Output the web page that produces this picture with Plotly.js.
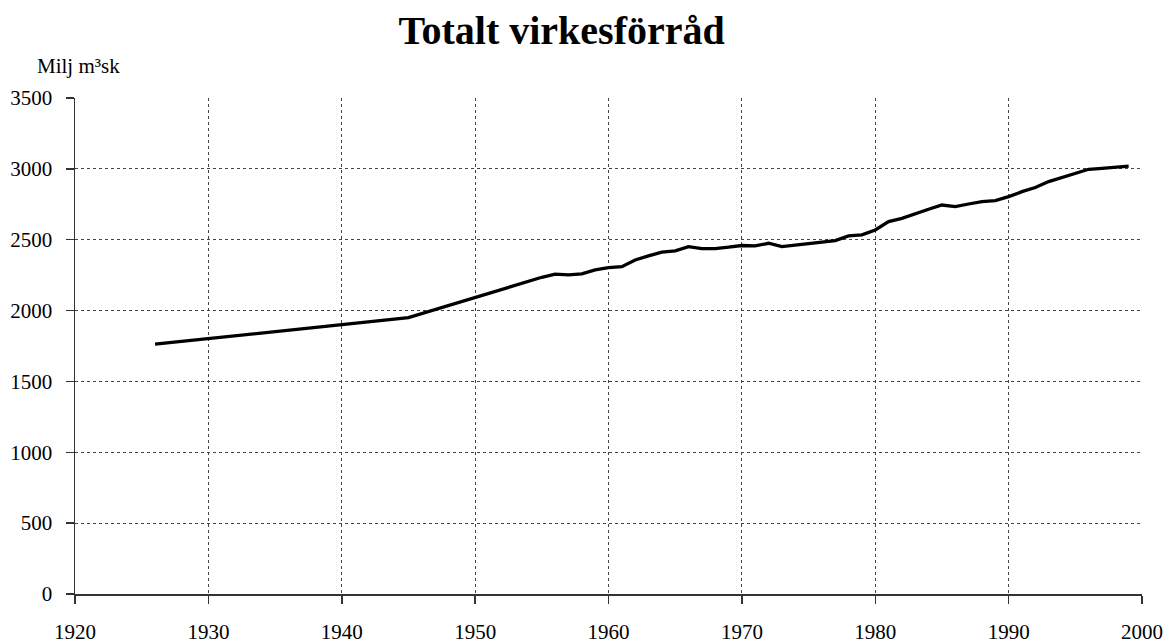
<!DOCTYPE html>
<html>
<head>
<meta charset="utf-8">
<script src="https://cdn.plot.ly/plotly-3.0.1.min.js"></script>
<style>html,body{margin:0;padding:0;background:#fff;}#chart{width:1170px;height:644px;}</style>
</head>
<body>
<div id="chart"></div>
<script>
const chartTitle = "Totalt virkesförråd";
const unitLabel = "Milj m³sk";
const years = [1926, 1945, 1955, 1956, 1957, 1958, 1959, 1960, 1961, 1962, 1963, 1964, 1965, 1966, 1967, 1968, 1969, 1970, 1971, 1972, 1973, 1974, 1975, 1976, 1977, 1978, 1979, 1980, 1981, 1982, 1983, 1984, 1985, 1986, 1987, 1988, 1989, 1990, 1991, 1992, 1993, 1994, 1995, 1996, 1997, 1998, 1999];
const volume = [1763, 1950, 2235, 2257, 2252, 2259, 2287, 2303, 2310, 2357, 2386, 2412, 2421, 2451, 2437, 2437, 2447, 2459, 2456, 2475, 2451, 2463, 2473, 2482, 2494, 2527, 2534, 2569, 2628, 2651, 2680, 2715, 2745, 2734, 2752, 2769, 2776, 2804, 2839, 2868, 2910, 2941, 2969, 2997, 3004, 3011, 3020];
const xTicks = [1920, 1930, 1940, 1950, 1960, 1970, 1980, 1990, 2000];
const yTicks = [0, 500, 1000, 1500, 2000, 2500, 3000, 3500];

const serif = "Liberation Serif, Times New Roman, serif";

const trace = {
  x: years, y: volume, type: 'scatter', mode: 'lines',
  line: {color: '#000', width: 3.3},
  hoverinfo: 'x+y'
};

const layout = {
  width: 1170, height: 644,
  margin: {l: 75, r: 28, t: 98, b: 50},
  paper_bgcolor: '#fff', plot_bgcolor: '#fff',
  showlegend: false,
  font: {family: serif, color: '#000', size: 21},
  title: {
    text: '<b>' + chartTitle + '</b>',
    font: {family: serif, size: 40, color: '#000'},
    xref: 'container', x: 0.48, xanchor: 'center',
    yref: 'container', y: 0.953, yanchor: 'middle'
  },
  xaxis: {
    range: [1920, 2000], tickvals: xTicks, ticktext: xTicks.map(String),
    showgrid: true, gridcolor: '#444', gridwidth: 1, griddash: '3px,3px',
    zeroline: false, showline: true, linecolor: '#333', linewidth: 1.5,
    ticks: 'outside', ticklen: 8, tickcolor: '#333', tickwidth: 1.5,
    ticklabelstandoff: 10,
    tickfont: {family: serif, size: 21, color: '#000'}
  },
  yaxis: {
    range: [0, 3500], tickvals: yTicks, ticktext: yTicks.map(String),
    showgrid: true, gridcolor: '#444', gridwidth: 1, griddash: '3px,3px',
    zeroline: false, showline: true, linecolor: '#333', linewidth: 1.5,
    ticks: 'outside', ticklen: 8, tickcolor: '#333', tickwidth: 1.5,
    ticklabelstandoff: 9,
    tickfont: {family: serif, size: 21, color: '#000'}
  },
  annotations: [{
    text: unitLabel, showarrow: false,
    xref: 'paper', x: (35 - 75) / 1067, xanchor: 'left',
    yref: 'paper', y: 1 + (98 - 66) / 496, yanchor: 'middle',
    font: {family: serif, size: 21, color: '#000'}
  }]
};

Plotly.newPlot('chart', [trace], layout, {displayModeBar: false, staticPlot: true});
</script>
</body>
</html>
